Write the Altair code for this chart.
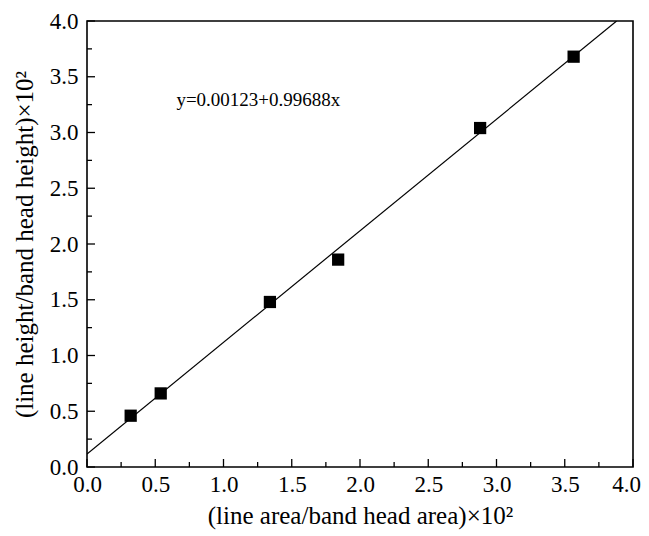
import altair as alt
import pandas as pd

# Data
x_vals = [0.32, 0.54, 1.34, 1.84, 2.88, 3.565]
y_vals = [0.46, 0.66, 1.48, 1.86, 3.04, 3.68]
fit_x = [0.0, 3.88]
fit_y = [0.117, 4.0]
major_ticks = [0.0, 0.5, 1.0, 1.5, 2.0, 2.5, 3.0, 3.5, 4.0]
minor_ticks = [0.25, 0.75, 1.25, 1.75, 2.25, 2.75, 3.25, 3.75]
equation = ["y=0.00123+0.99688x"]
eq_x = [0.655]
eq_y = [3.29]
x_title = "(line area/band head area)×10²"
y_title = "(line height/band head height)×10²"

W, H = 546, 446
FONT = "Liberation Serif"

pts_df = pd.DataFrame({"x": x_vals, "y": y_vals})
fit_df = pd.DataFrame({"x": fit_x, "y": fit_y})
major_df = pd.DataFrame({"v": major_ticks})
minor_df = pd.DataFrame({"v": minor_ticks})
eq_df = pd.DataFrame({"x": eq_x, "y": eq_y, "t": equation})

xs = alt.Scale(domain=[0, 4], nice=False, zero=False)
ys = alt.Scale(domain=[0, 4], nice=False, zero=False)

x_axis = alt.Axis(values=major_ticks, format=".1f", title=x_title, ticks=False, domain=False,
                  grid=False, labelFont=FONT, labelFontSize=23, labelColor="black",
                  labelPadding=6, titleFont=FONT, titleFontSize=25, titleFontWeight="normal",
                  titleColor="black", titlePadding=7, labelFlush=False,
                  labelOffset={"condition": {"test": "datum.value >= 4", "value": -7}, "value": 0})
y_axis = alt.Axis(values=major_ticks, format=".1f", title=y_title, ticks=False, domain=False,
                  grid=False, labelFont=FONT, labelFontSize=23, labelColor="black",
                  labelPadding=9, titleFont=FONT, titleFontSize=25, titleFontWeight="normal",
                  titleColor="black", titlePadding=12, labelFlush=False)


def X(field):
    return alt.X(field, type="quantitative", scale=xs, axis=x_axis, title=x_title)


def Y(field):
    return alt.Y(field, type="quantitative", scale=ys, axis=y_axis, title=y_title)


fit = alt.Chart(fit_df).mark_line(color="black", strokeWidth=1.2, clip=True).encode(
    x=X("x"), y=Y("y"))

pts = alt.Chart(pts_df).mark_square(size=150, color="black", opacity=1).encode(
    x=X("x"), y=Y("y"))

xmaj = alt.Chart(major_df).mark_rule(color="black", strokeWidth=1.3).encode(
    x=X("v"), y=alt.value(H), y2=alt.value(H - 8))
xmin = alt.Chart(minor_df).mark_rule(color="black", strokeWidth=1.3).encode(
    x=X("v"), y=alt.value(H), y2=alt.value(H - 5))
ymaj = alt.Chart(major_df).mark_rule(color="black", strokeWidth=1.3).encode(
    y=Y("v"), x=alt.value(0), x2=alt.value(8))
ymin = alt.Chart(minor_df).mark_rule(color="black", strokeWidth=1.3).encode(
    y=Y("v"), x=alt.value(0), x2=alt.value(5))

eq = alt.Chart(eq_df).mark_text(align="left", baseline="middle", font=FONT, fontSize=19,
                                color="black").encode(
    x=X("x"), y=Y("y"), text="t:N")

chart = alt.layer(fit, xmaj, xmin, ymaj, ymin, pts, eq).properties(
    width=W, height=H,
    autosize=alt.AutoSizeParams(type="none"),
    padding={"left": 79, "top": 13, "right": 8, "bottom": 69},
).configure(background="white").configure_view(stroke="black", strokeWidth=1.6)

chart.save("out.html", embed_options={"renderer": "svg", "actions": False})
